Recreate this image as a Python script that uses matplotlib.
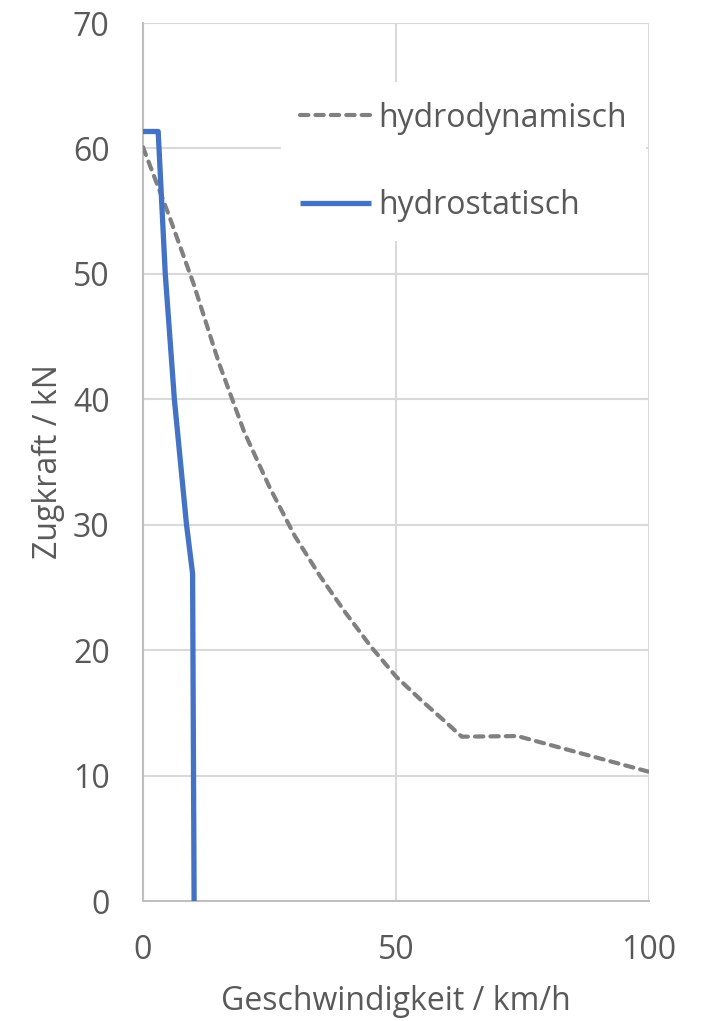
import matplotlib
matplotlib.use("Agg")
from matplotlib import pyplot as plt

# Geschwindigkeit / km/h  ->  Zugkraft / kN
v_dyn = [0, 5, 10, 15, 20, 25, 30, 35, 40, 45, 50, 55, 60, 63, 74, 100]
f_dyn = [60.1, 54.8, 49.2, 42.9, 37.4, 33.0, 29.1, 25.9, 23.0, 20.3, 17.9, 16.0, 14.2, 13.1, 13.15, 10.3]

v_stat = [0, 3.0, 4.4, 6.2, 8.6, 9.8, 10.1]
f_stat = [61.35, 61.35, 50, 40, 30, 26.1, 0]

txt = '#595959'
plt.rcParams['font.family'] = ['Open Sans', 'DejaVu Sans']

fig = plt.figure(figsize=(7.07, 10.21), dpi=100)
ax = fig.add_axes([143/707, 120/1021, 506/707, 878/1021])

ax.plot(v_dyn, f_dyn, color='#808080', lw=3.0, linestyle=(0, (2.0, 1.7)),
        dash_capstyle='round', label='hydrodynamisch', zorder=3)
ax.plot(v_stat, f_stat, color='#4472C4', lw=3.8, solid_capstyle='butt',
        label='hydrostatisch', zorder=4)

ax.set_xlim(0, 100)
ax.set_ylim(0, 70)
ax.set_xticks([0, 50, 100])
ax.set_yticks(range(0, 71, 10))
ax.grid(True, color='#d9d9d9', lw=1.5)
ax.set_axisbelow(True)
for s in ['top', 'right']:
    ax.spines[s].set_visible(False)
for s in ['left', 'bottom']:
    ax.spines[s].set_color('#bfbfbf')
    ax.spines[s].set_linewidth(1.5)
ax.tick_params(length=0, labelsize=23, labelcolor=txt)
ax.tick_params(axis='y', pad=24)
ax.tick_params(axis='x', pad=24)

ax.set_xlabel('Geschwindigkeit / km/h', fontsize=23, color=txt, labelpad=13)
ax.set_ylabel('Zugkraft / kN', fontsize=23, color=txt, labelpad=6)

leg = ax.legend(loc='center', bbox_to_anchor=(0.634, 0.842), fontsize=23,
                frameon=True, facecolor='white', edgecolor='none', framealpha=1,
                fancybox=False, handlelength=2.2, handletextpad=0.25,
                labelspacing=1.7, borderpad=0.6)
for t in leg.get_texts():
    t.set_color(txt)

plt.savefig('out.png', dpi=100)
